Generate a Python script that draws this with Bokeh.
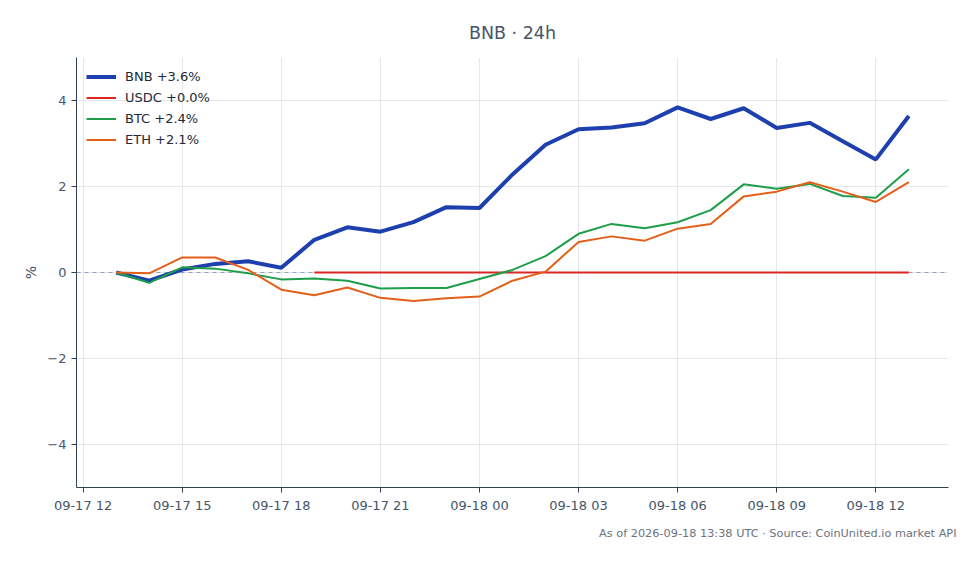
import pandas as pd
from bokeh.plotting import figure
from bokeh.models import Range1d, FixedTicker, DatetimeTickFormatter, Span, Legend, LegendItem, Title, ColumnDataSource
from bokeh.embed import file_html
from bokeh.resources import INLINE

# ---- data ----
times = pd.date_range("2026-09-17 13:00", "2026-09-18 13:00", freq="1h")
bnb = [0.00, -0.19, 0.07, 0.20, 0.26, 0.11, 0.76, 1.05, 0.95, 1.17, 1.52, 1.50, 2.28,
       2.97, 3.33, 3.37, 3.47, 3.84, 3.57, 3.82, 3.36, 3.48, 3.05, 2.63, 3.64]
usdc = [None, None, None, None, None, None, 0.0, 0.0, 0.0, 0.0, 0.0, 0.0, 0.0,
        0.0, 0.0, 0.0, 0.0, 0.0, 0.0, 0.0, 0.0, 0.0, 0.0, 0.0, 0.0]
btc = [0.00, -0.24, 0.12, 0.09, -0.02, -0.16, -0.14, -0.19, -0.37, -0.36, -0.36, -0.15, 0.06,
       0.38, 0.90, 1.13, 1.03, 1.17, 1.45, 2.05, 1.95, 2.06, 1.78, 1.74, 2.40]
eth = [0.00, -0.02, 0.35, 0.35, 0.06, -0.40, -0.53, -0.35, -0.59, -0.66, -0.60, -0.56, -0.19,
       0.02, 0.71, 0.84, 0.74, 1.02, 1.13, 1.77, 1.88, 2.10, 1.88, 1.64, 2.10]
labels = ["BNB +3.6%", "USDC +0.0%", "BTC +2.4%", "ETH +2.1%"]
x_ticks = pd.date_range("2026-09-17 12:00", "2026-09-18 12:00", freq="3h")
y_ticks = [-4, -2, 0, 2, 4]
title_text = "BNB · 24h"
footnote = "As of 2026-09-18 13:38 UTC · Source: CoinUnited.io market API"

FONT = "DejaVu Sans"
TXT = "#475569"

def ms(t):
    return pd.Timestamp(t).value / 1e6

t0, t1 = ms(times[0]), ms(times[-1])
pad = (t1 - t0) * 0.05

p = figure(width=972, height=548, output_backend="svg", toolbar_location=None,
           x_axis_type="datetime",
           x_range=Range1d(t0 - pad, t1 + pad), y_range=Range1d(-5, 5),
           min_border_left=76, min_border_right=24, min_border_top=57, min_border_bottom=40)
p.outline_line_color = None
p.background_fill_color = "white"
p.border_fill_color = "white"

p.title.text = title_text
p.title.align = "center"
p.title.text_font = FONT
p.title.text_font_size = "17.5px"
p.title.text_font_style = "normal"
p.title.text_color = TXT
p.title.standoff = 29

zero = Span(location=0, dimension="width", line_color="#94a3b8", line_dash="4 4", line_width=1, level="underlay")
p.add_layout(zero)

src = ColumnDataSource(dict(t=list(times), bnb=bnb, usdc=[float("nan") if v is None else v for v in usdc], btc=btc, eth=eth))
r_bnb = p.line("t", "bnb", source=src, line_color="#1e40af", line_width=4)
r_usdc = p.line("t", "usdc", source=src, line_color="#dc2626", line_width=2)
r_btc = p.line("t", "btc", source=src, line_color="#1f9e4a", line_width=2)
r_eth = p.line("t", "eth", source=src, line_color="#e2601a", line_width=2)

legend = Legend(items=[LegendItem(label=labels[0], renderers=[r_bnb]),
                       LegendItem(label=labels[1], renderers=[r_usdc]),
                       LegendItem(label=labels[2], renderers=[r_btc]),
                       LegendItem(label=labels[3], renderers=[r_eth])],
                location="top_left")
legend.border_line_color = None
legend.background_fill_alpha = 0.0
legend.label_text_font = FONT
legend.label_text_font_size = "13px"
legend.label_text_color = "#1f2937"
legend.glyph_width = 30
legend.label_standoff = 9
legend.spacing = 2
legend.label_height = 19
legend.glyph_height = 19
legend.margin = 10
p.add_layout(legend)

p.xaxis.ticker = FixedTicker(ticks=[ms(t) for t in x_ticks])
p.xaxis.formatter = DatetimeTickFormatter(hours="%m-%d %H", days="%m-%d %H", hourmin="%m-%d %H")
p.yaxis.ticker = FixedTicker(ticks=y_ticks)
p.yaxis.major_label_overrides = {v: (str(v).replace("-", "\u2212")) for v in y_ticks}
p.yaxis.axis_label = "%"

for ax in (p.xaxis[0], p.yaxis[0]):
    ax.axis_line_color = "#334155"
    ax.axis_line_width = 1
    ax.major_tick_line_color = "#334155"
    ax.major_tick_in = 0
    ax.major_tick_out = 5
    ax.minor_tick_line_color = None
    ax.major_label_text_font = FONT
    ax.major_label_text_font_size = "13px"
    ax.major_label_text_color = TXT
    ax.axis_label_text_font = FONT
    ax.axis_label_text_font_size = "14px"
    ax.axis_label_text_font_style = "normal"
    ax.axis_label_text_color = TXT

p.xgrid.grid_line_color = "#e5e7eb"
p.ygrid.grid_line_color = "#e5e7eb"

foot = Title(text=footnote, align="right", text_font=FONT, text_font_size="11.3px",
             text_font_style="normal", text_color="#6b7280", offset=-8, standoff=18)
p.add_layout(foot, "below")

open("out.html", "w").write(file_html(p, INLINE))
